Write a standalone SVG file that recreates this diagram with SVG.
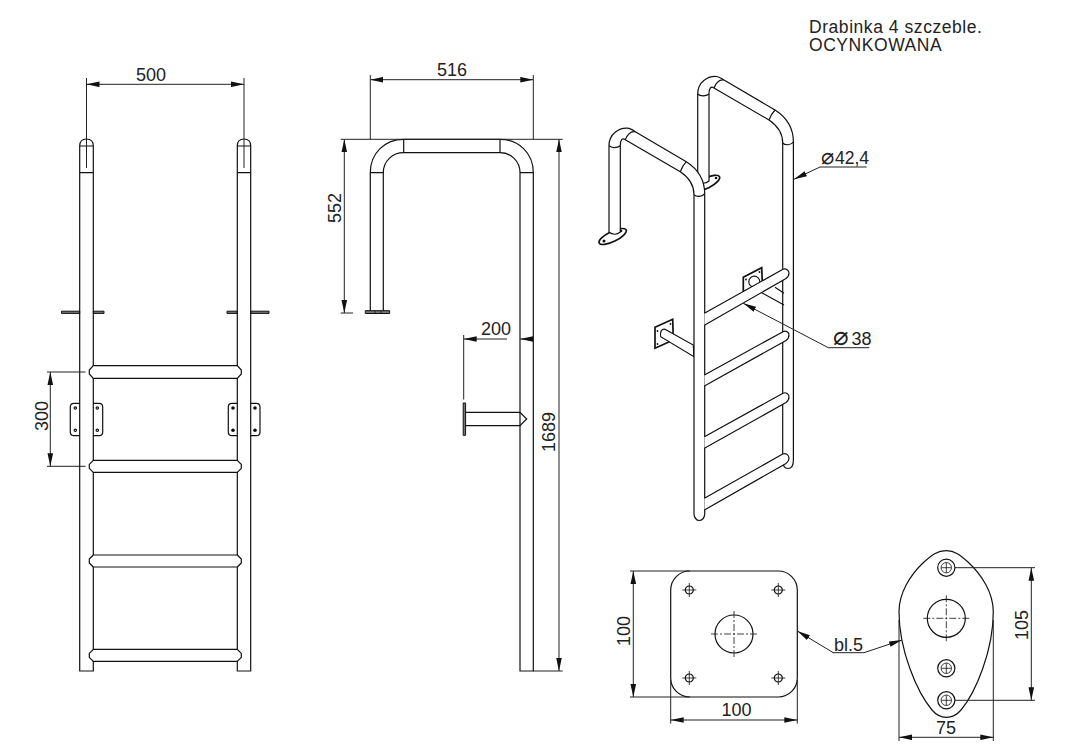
<svg xmlns="http://www.w3.org/2000/svg" width="1076" height="750" viewBox="0 0 1076 750">
<style>
text{font-family:"Liberation Sans",Arial,sans-serif;font-size:18px;fill:#222}
.m{text-anchor:middle}
.n{font-size:17.500px;letter-spacing:.55px}
.o{fill:none;stroke:#111;stroke-width:1.2}
.w{fill:#fff;stroke:#111;stroke-width:1.2}
.k{fill:#fff;stroke:#111;stroke-width:1.7}
.t{fill:none;stroke:#111;stroke-width:.8}
.c{fill:none;stroke:#111;stroke-width:.8;stroke-dasharray:7 2 2 2}
.d{fill:none;stroke:#222;stroke-width:1}
.a{fill:none;stroke:#222;stroke-width:1;marker-end:url(#ah)}
.b{fill:none;stroke:#222;stroke-width:1;marker-start:url(#ahs);marker-end:url(#ah)}
.s{fill:#777;stroke:#111;stroke-width:1}
</style>
<defs>
<marker id="ah" markerUnits="userSpaceOnUse" markerWidth="14" markerHeight="6" refX="13" refY="3" orient="auto"><path d="M0 .2 L13 3 L0 5.800Z" fill="#111"/></marker>
<marker id="ahs" markerUnits="userSpaceOnUse" markerWidth="14" markerHeight="6" refX="13" refY="3" orient="auto-start-reverse"><path d="M0 .2 L13 3 L0 5.800Z" fill="#111"/></marker>
<g id="ph"><circle r="4" class="o"/><path d="M-7 0H7M0 -7V7" class="t"/></g>
<g id="th"><circle r="8.600" class="o"/><circle r="5.200" class="t"/><path d="M-5 0H5M0 -5V5" class="t"/></g>
<g id="bh"><circle r="19" class="o"/><path d="M-23 0H23M0 -23V23" class="c"/></g>
</defs>

<g id="note"><text x="809" y="33" class="n">Drabinka 4 szczeble.</text><text x="809" y="51" class="n">OCYNKOWANA</text></g>

<g id="front-view">
<path d="M61.500 311.200H79.700V313.400H61.500ZM93.300 311.200H104V313.400H93.300ZM227 311.200H237.300V313.400H227ZM250.700 311.200H269V313.400H250.700Z" class="s"/>
<path d="M79.700 403.300H74C71.500 403.300 70.300 405 70.300 407V432C70.300 434 71.500 435.700 74 435.700H79.700M93.300 403.300H99C101.500 403.300 102.700 405 102.700 407V432C102.700 434 101.500 435.700 99 435.700H93.300" class="o"/>
<path d="M237.300 403.300H232C229.500 403.300 228.300 405 228.300 407V432C228.300 434 229.500 435.700 232 435.700H237.300M250.700 403.300H256.300C258.800 403.300 260 405 260 407V432C260 434 258.800 435.700 256.300 435.700H250.700" class="o"/>
<g class="o"><circle cx="75.300" cy="408" r="1.200"/><circle cx="97.300" cy="408" r="1.200"/><circle cx="75.300" cy="430.300" r="1.200"/><circle cx="97.300" cy="430.300" r="1.200"/></g>
<g fill="#111"><circle cx="233" cy="408" r="1.800"/><circle cx="255" cy="408" r="1.800"/><circle cx="233" cy="430.300" r="1.800"/><circle cx="255" cy="430.300" r="1.800"/></g>
<path d="M79.700 671V146C79.700 141 83 139 86.500 139C90 139 93.300 141 93.300 146V671ZM237.300 671V146C237.300 141 240.500 139 244 139C247.500 139 250.700 141 250.700 146V671Z" class="o"/>
<path d="M79.700 146H93.300M79.700 172.700H93.300M237.300 146H250.700M237.300 172.700H250.700" class="o"/>
<path d="M93.300 365.700H237.300L241.300 370V374L237.300 378.300H93.300L89.300 374V370Z" class="w" stroke-linejoin="round"/>
<path d="M93.300 460.300H237.300L241.300 464.300V468.300L237.300 472.300H93.300L89.300 468.300V464.300Z" class="w" stroke-linejoin="round"/>
<path d="M93.300 555H237.300L241.300 559V563L237.300 567H93.300L89.300 563V559Z" class="w" stroke-linejoin="round"/>
<path d="M93.300 649.300H237.300L241.300 653.300V657.300L237.300 661.300H93.300L89.300 657.300V653.300Z" class="w" stroke-linejoin="round"/>
</g>

<g id="side-view">
<path d="M370.300 312V172.700C370.300 153 385 139.300 403.700 139.300H500C518.500 139.300 533.300 153 533.300 172.700V671H520V172.700C520 161 511 152.700 500 152.700H403.700C392.500 152.700 383.300 161 383.300 172.700V312" class="o"/>
<path d="M370.300 172.700H383.300M520 172.700H533.300M403.700 139.300V152.700M500 139.300V152.700" class="o"/>
<path d="M365.300 310.700H389.700V313.500H365.300Z" class="s"/>
<path d="M375 310.700V313.500M381 310.700V313.500" class="t"/>
<path d="M465 412.300H520L526.700 419L520 425.700H465" class="o"/>
<path d="M463.200 403H465.600V435.300H463.200Z" class="s"/>
</g>

<g id="iso-view">
<ellipse cx="707" cy="183" rx="14" ry="5" transform="rotate(-27 707 183)" class="k"/>
<circle cx="716" cy="178" r="1.300" fill="#111"/>
<path id="frame-rear" d="M697.700 181V94C697.700 82 708 76 716 76.500C719 76.700 721 78 724 80L775 110C786 117 793.400 128 793.400 142V460C793.400 466 791 468.500 788 468.500C785 468.500 782.700 466 782.700 460V143C782.700 134 778 126 769 120L714 88C711 86 709 88 709 94V181C706 184 700 184 697.700 181Z" class="w"/>
<path d="M697.700 94C700 96.500 706 96.500 709 94M782.700 143C785 145.500 791 145.500 793.400 142M714 88C716 83 719 79 724 80M769 120C771 115 774 111 775 110" class="o"/>
<path d="M743.300 277.300L761.700 267.700L762.300 283.300L743.300 291.700Z" class="k"/>
<circle cx="754.300" cy="281.700" r="5.500" class="o"/>
<circle cx="746" cy="279.500" r=".9" fill="#111"/><circle cx="759.500" cy="272" r=".9" fill="#111"/>
<path d="M775 287.300L784 293.300M761.700 292.700L784 305" class="o"/>

<path d="M655 327.300L672.700 319.300L673.300 340L655 348.300Z" class="k"/>
<circle cx="657.500" cy="331" r=".9" fill="#111"/><circle cx="670.500" cy="324" r=".9" fill="#111"/><circle cx="657.500" cy="344" r=".9" fill="#111"/><circle cx="670.500" cy="336.500" r=".9" fill="#111"/>
<path d="M665 329.300L693.300 345L694 356.700L660.700 336.700C659.500 332 662 328.500 665 329.300Z" class="w"/>

<ellipse cx="612.700" cy="236.500" rx="15" ry="5" transform="rotate(-26 612.700 236.500)" class="k"/>
<circle cx="604" cy="241" r="1.500" fill="#111"/><circle cx="621" cy="231" r="1.300" fill="#111"/>
<path id="frame-front" d="M609 232V145.700C609 133.700 619.300 127.700 627.300 128.200C630.300 128.400 632.300 129.700 635.300 131.700L686.300 161.700C697.300 168.700 704.700 179.700 704.700 193.700V514C704.700 518 702 520.500 699 520.500C697 520.500 694 518 694 514V194.700C694 185.700 689.300 177.700 680.300 171.700L625.300 139.700C622.300 137.700 620.300 139.700 620.300 145.700V232C617 235 612 235 609 232Z" class="w"/>
<path d="M609 145.700C611.300 148.200 617.300 148.200 620.300 145.700M694 194.700C696.300 197.200 702.300 197.200 704.700 193.700M625.300 139.700C627.300 134.700 630.300 130.700 635.300 131.700M680.300 171.700C682.300 166.700 685.300 162.700 686.300 161.700" class="o"/>
<path d="M704.400 313.300L783 269.300C786 267.800 789 270.500 789 273C789 275 788 277 786 278.500L704.400 325.300" class="w"/>
<path d="M704.400 375L783 331.700C786 330 789 332.500 789 335C789 337 788 339 786 340.500L704.400 386" class="w"/>
<path d="M704.400 436.700L783 393.300C786 391.700 789 394 789 397C789 399 788 401 786 402.500L704.400 448.300" class="w"/>
<path d="M704.400 498.300L782.700 454C786 452.500 789 455 789 458.500C789 460.500 788 462 786 463.500L704.400 510" class="w"/>
</g>

<g id="plate-square">
<rect x="670.700" y="571" width="126.600" height="126" rx="19" class="o"/>
<use href="#ph" x="689.300" y="590"/><use href="#ph" x="778.300" y="590"/><use href="#ph" x="689.300" y="678"/><use href="#ph" x="778.300" y="678"/>
<use href="#bh" x="734" y="634"/>
</g>

<g id="plate-oval">
<path d="M946.300 550.700C937 550.700 932 555 924 562C910 575 899 593 899 611.700C899 650 917 692 932 710C937 716 942 717.300 946.300 717.300C951 717.300 956 716 961 710C976 692 993.300 650 993.300 611.700C993.300 593 982 575 968 562C960 555 955 550.700 946.300 550.700Z" class="o"/>
<use href="#th" x="946.300" y="567.700"/><use href="#th" x="946.300" y="668.300"/><use href="#th" x="946.300" y="700.300"/>
<use href="#bh" x="946.300" y="618.300"/>
</g>

<g id="connectors">
<path d="M86.500 78V168M244 78V168" class="d"/>
<path d="M86.500 84.300H244" class="b"/>
<path d="M47 372H85.500M47 466.300H85.500" class="d"/>
<path d="M50.300 372V466.300" class="b"/>
<path d="M370.300 75V139.300M533.300 75V139.300" class="d"/>
<path d="M370.300 79.700H533.300" class="b"/>
<path d="M340.700 139.300H562.700M340.700 313H353M533.300 671H562.700" class="d"/>
<path d="M344.300 139.300V313" class="b"/>
<path d="M559 139.300V671" class="b"/>
<path d="M463.700 335V399.500" class="d"/>
<path d="M507 339H463.700" class="a"/>
<path d="M527 339H520" class="a"/>
<path d="M866.700 167H820L794 179.300" class="a"/>
<path d="M869.300 347.700H828.300L743.300 303.300" class="a"/>
<path d="M630 571H690M630 697H690" class="d"/>
<path d="M633.300 571V697" class="b"/>
<path d="M670.700 680V723.500M797.300 680V723.500" class="d"/>
<path d="M670.700 720H797.300" class="b"/>
<path d="M833.300 652.700L797.300 631" class="a"/>
<path d="M832.700 652.700H864L902 640" class="a"/>
<path d="M955 567.700H1035M955 700.300H1035" class="d"/>
<path d="M1031.300 567.700V700.300" class="b"/>
<path d="M899 620V741M993.300 620V741" class="d"/>
<path d="M899 737.300H993.300" class="b"/>
</g>

<g id="labels">
<text x="151" y="81" class="m">500</text>
<text x="452" y="76" class="m">516</text>
<text x="496" y="335" class="m">200</text>
<text transform="translate(47.500 416) rotate(-90)" class="m">300</text>
<text transform="translate(341 208) rotate(-90)" class="m">552</text>
<text transform="translate(555 432) rotate(-90)" class="m">1689</text>
<text x="821" y="164" style="font-size:17.500px"><tspan style="font-family:'DejaVu Sans',sans-serif;font-size:22px">⌀</tspan><tspan x="835">42,4</tspan></text>
<text x="833" y="345"><tspan style="font-family:'DejaVu Sans',sans-serif;font-size:26px">⌀</tspan><tspan x="851.500">38</tspan></text>
<text transform="translate(630 631) rotate(-90)" class="m">100</text>
<text x="736.500" y="716" class="m">100</text>
<text x="834" y="651">bl.5</text>
<text transform="translate(1028.300 625) rotate(-90)" class="m">105</text>
<text x="946" y="734" class="m">75</text>
</g>
</svg>
